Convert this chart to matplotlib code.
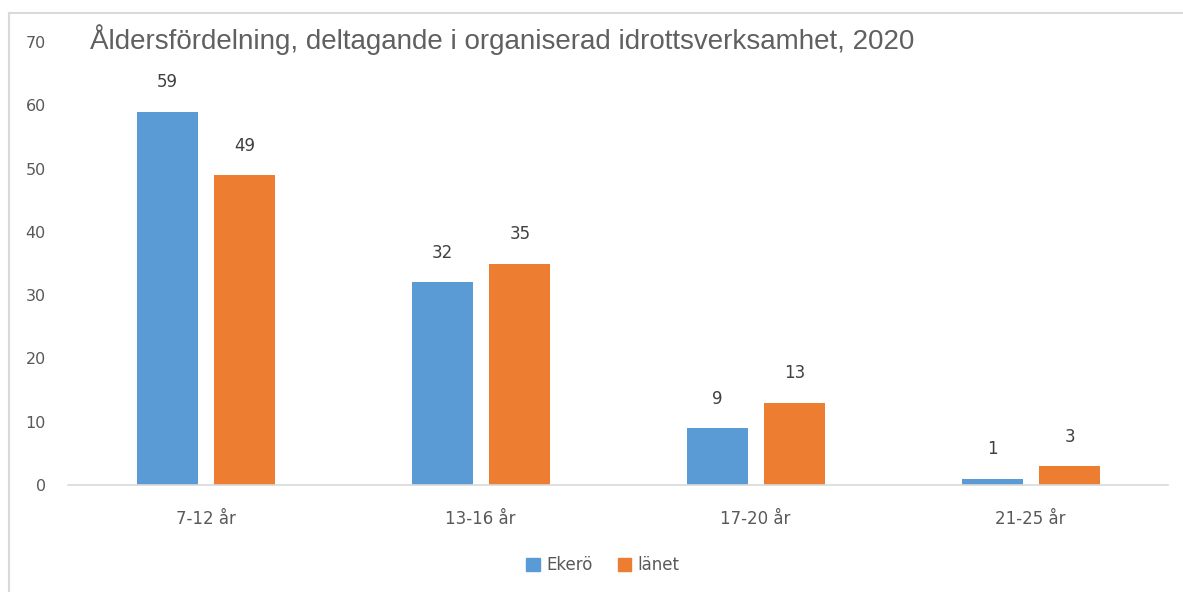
import matplotlib.pyplot as plt
import numpy as np
from matplotlib.lines import Line2D

categories = ["7-12 år", "13-16 år", "17-20 år", "21-25 år"]
ekero = [59, 32, 9, 1]
lanet = [49, 35, 13, 3]
series_names = ["Ekerö", "länet"]
yticks = [0, 10, 20, 30, 40, 50, 60, 70]

blue = "#5b9bd5"
orange = "#ed7d31"

plt.rcParams['font.family'] = ['Liberation Sans', 'DejaVu Sans']

fig = plt.figure(figsize=(11.83, 5.92), dpi=100)
ax = fig.add_axes([68/1183, 1-485/592, 1100/1183, (485-42)/592])

x = np.arange(len(categories))
w = 0.222
b1 = ax.bar(x - 0.138, ekero, w, color=blue, label=series_names[0])
b2 = ax.bar(x + 0.143, lanet, w, color=orange, label=series_names[1])

for bars in (b1, b2):
    for r in bars:
        ax.text(r.get_x() + r.get_width()/2, r.get_height() + 3.2, str(int(r.get_height())),
                ha='center', va='bottom', fontsize=12, color='#404040', family='DejaVu Sans')

ax.set_xlim(-0.5, 3.5)
ax.set_ylim(0, 70)
ax.set_yticks(yticks)
ax.set_yticklabels([str(v) for v in yticks], family='DejaVu Sans')
ax.set_xticks(x)
ax.set_xticklabels(categories, family='DejaVu Sans')
ax.tick_params(axis='y', length=0, pad=16, labelsize=11.5, labelcolor='#595959')
ax.tick_params(axis='x', length=0, pad=18, labelsize=12, labelcolor='#595959')
for s in ['top', 'right', 'left']:
    ax.spines[s].set_visible(False)
ax.spines['bottom'].set_color('#d9d9d9')
ax.spines['bottom'].set_linewidth(1.2)

fig.text(90/1183, 1-40/592, "Åldersfördelning, deltagande i organiserad idrottsverksamhet, 2020",
         fontsize=20, color='#606060', va='center', ha='left')

handles = [plt.Rectangle((0, 0), 1, 1, color=blue), plt.Rectangle((0, 0), 1, 1, color=orange)]
leg = fig.legend(handles, series_names, loc='center', bbox_to_anchor=(603/1183, 1-565/592),
                 ncol=2, frameon=False, handlelength=0.8, handleheight=0.8,
                 columnspacing=1.5, handletextpad=0.4,
                 prop={'family': 'DejaVu Sans', 'size': 12})
for t in leg.get_texts():
    t.set_color('#595959')

# outer frame
fig.add_artist(Line2D([9/1183, 1], [1-13/592, 1-13/592], color='#d9d9d9', lw=1.5, transform=fig.transFigure))
fig.add_artist(Line2D([9/1183, 9/1183], [0, 1-13/592], color='#d9d9d9', lw=1.5, transform=fig.transFigure))

fig.savefig("out.png", dpi=100)
